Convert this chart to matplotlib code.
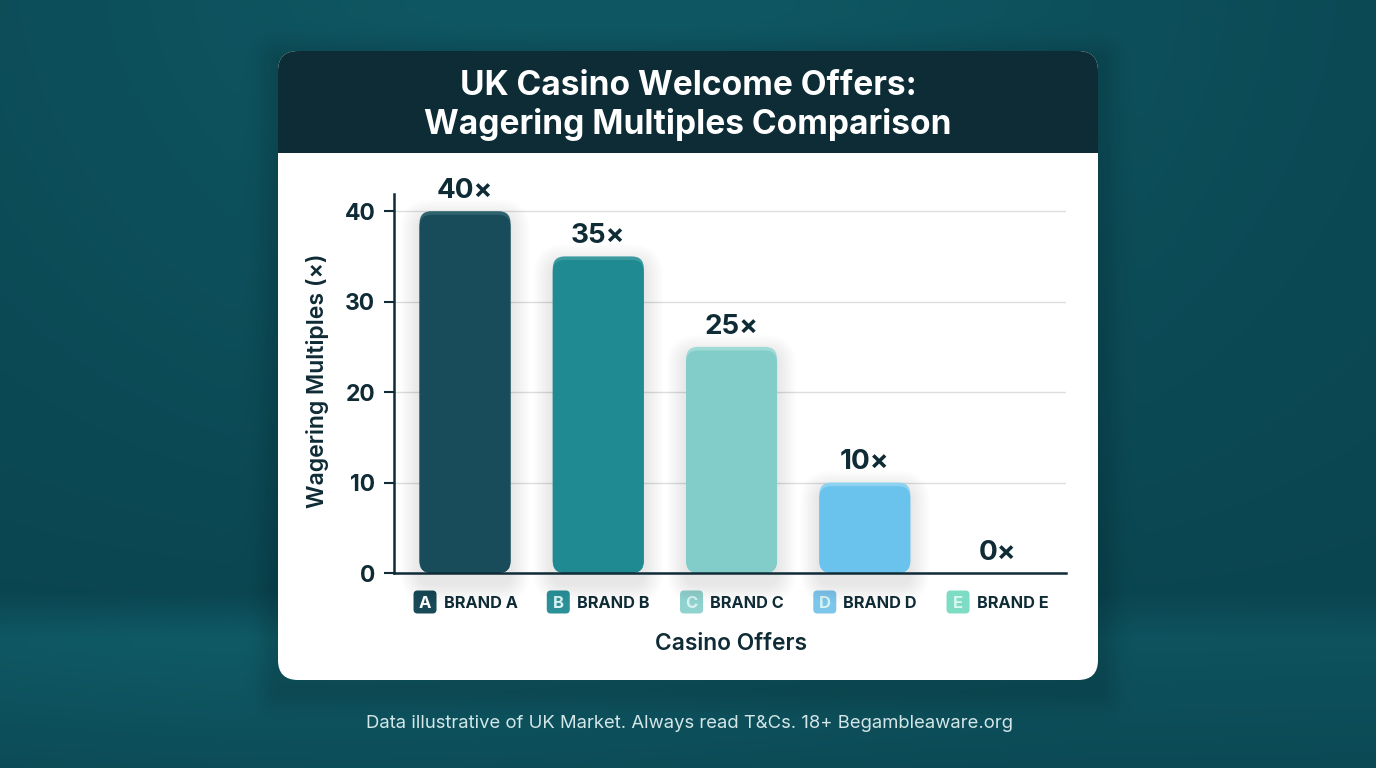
import matplotlib
matplotlib.use("Agg")
import matplotlib.pyplot as plt
import numpy as np
from matplotlib.patches import FancyBboxPatch, Rectangle

# Chart data
brands = ["BRAND A", "BRAND B", "BRAND C", "BRAND D", "BRAND E"]
letters = ["A", "B", "C", "D", "E"]
multiples = [40, 35, 25, 10, 0]
y_ticks = [0, 10, 20, 30, 40]
bar_colors = ["#184c5a", "#1f8a91", "#82cdca", "#6ac3ec", "#7fdcc4"]
rim_colors = ["#2f6370", "#3a9aa0", "#a0dad6", "#8ed2f2", "#a0e6d4"]
badge_colors = ["#1a4a58", "#2b9098", "#8fd2ce", "#7cc6ec", "#7fdcc4"]
badge_text = ["#ffffff", "#d8f3f3", "#d8f3f3", "#d8f3f3", "#d8f8ee"]

title = "UK Casino Welcome Offers:\nWagering Multiples Comparison"
footer = "Data illustrative of UK Market. Always read T&Cs. 18+ Begambleaware.org"

INK = "#0f2b35"
W, H = 1376, 768

plt.rcParams["font.family"] = ["Inter", "DejaVu Sans"]

fig = plt.figure(figsize=(W / 100, H / 100), dpi=100)

# backdrop axes works in pixel coordinates, y going down
bg = fig.add_axes([0, 0, 1, 1], zorder=0)
bg.set_xlim(0, W)
bg.set_ylim(H, 0)
bg.axis("off")

yy, xx = np.mgrid[0:H, 0:W].astype(float)
# wall: vignette that darkens towards the floor line
wall = 0.45 * np.exp(-((xx - 600) / 700.0) ** 2) * np.clip(1 - (yy / 640.0) ** 1.5, 0, 1) + 0.06
# floor: sharp-ish start at y=600, brightest near y=640, fading down
rise = np.clip((yy - 592) / 45.0, 0, 1)
fade = np.clip(1 - (yy - 645) / 200.0, 0, 1)
floor = rise * fade * (0.32 + 0.2 * np.exp(-((xx - 350) / 500.0) ** 2))
dark = np.array([9, 66, 77.0])
light = np.array([20, 108, 120.0])
mix = np.clip(wall + floor, 0, 1)[..., None]
img = dark + (light - dark) * mix

# soft card shadow
cx, cy, hw, hh = 688, 374, 410, 315
d = np.hypot(np.maximum(np.abs(xx - cx) - hw, 0), np.maximum(np.abs(yy - cy) - hh, 0))
shadow = 0.14 * np.exp(-(d / 20.0) ** 2)[..., None]
img = img * (1 - shadow)
bg.imshow(img.astype(np.uint8), extent=(0, W, H, 0), aspect="auto", zorder=0)

card = FancyBboxPatch((278, 51), 820, 629, boxstyle="round,pad=0,rounding_size=20",
                      fc="white", ec="none", zorder=1)
bg.add_patch(card)
header = Rectangle((278, 51), 820, 102, fc="#0d2c36", ec="none", zorder=2)
bg.add_patch(header)
header.set_clip_path(card)

bg.text(688, 105.5, title, color="white", fontsize=24.1, fontweight="bold",
        ha="center", va="center", linespacing=1.23, zorder=3)
bg.text(689, 723, footer, color="#d3e6e8", fontsize=13.3, ha="center", va="center", zorder=3)

# main axes: spine at x=394..1066, y=0 at 573, y=40 at 211
ax = fig.add_axes([394 / W, 1 - 573 / H, (1066 - 394) / W, (573 - 194) / H], zorder=1)
ax.patch.set_alpha(0)
ax.set_xlim(-0.533, 4.51)
ax.set_ylim(0, 41.9)

x = np.arange(len(brands))
bar_w = 0.683
ax.set_yticks(y_ticks)
ax.set_xticks(x)
ax.set_xticklabels([])
ax.grid(axis="y", color="#dcdfe0", lw=1)
ax.set_axisbelow(True)
ax.tick_params(axis="x", length=0)
ax.tick_params(axis="y", length=7.5, width=1.5, color=INK, labelcolor=INK, pad=6)
for lab in ax.get_yticklabels():
    lab.set_fontsize(16.5)
    lab.set_fontweight("bold")
for side in ["top", "right"]:
    ax.spines[side].set_visible(False)
for side in ["left", "bottom"]:
    ax.spines[side].set_color(INK)
    ax.spines[side].set_linewidth(1.8)
    ax.spines[side].set_zorder(6)

# rounded bars, aspect keeps the corners circular in pixels
aspect = (ax.get_ylim()[1] / 379) / ((ax.get_xlim()[1] - ax.get_xlim()[0]) / 672)
corner = "round,pad=0,rounding_size=0.09"
for i, val in enumerate(multiples):
    if val > 0:
        for k in range(12, 0, -1):
            # stacked translucent boxes for the bar's soft shadow
            grow = k * 0.012
            ax.add_patch(FancyBboxPatch((i - bar_w / 2, -1.2), bar_w, val + 0.4,
                                        boxstyle=f"round,pad={grow},rounding_size={0.09 + grow}",
                                        mutation_aspect=aspect, fc="#0f2e39", ec="none",
                                        alpha=0.006, zorder=3, clip_on=False))
        # lighter top rim first, then the body over it
        ax.add_patch(FancyBboxPatch((i - bar_w / 2, 0), bar_w, val, boxstyle=corner,
                                    mutation_aspect=aspect, fc=rim_colors[i], ec="none",
                                    zorder=4, clip_on=False))
        ax.add_patch(FancyBboxPatch((i - bar_w / 2, 0), bar_w, val - 0.4, boxstyle=corner,
                                    mutation_aspect=aspect, fc=bar_colors[i], ec="none",
                                    zorder=5, clip_on=False))
    ax.annotate(f"{val}×", (i, val), xytext=(0, 14.5), textcoords="offset points",
                ha="center", va="center", fontsize=20, fontweight="bold", color=INK,
                annotation_clip=False, zorder=7)

ax.set_ylabel("Wagering Multiples (×)", fontsize=16.6, fontweight="semibold", color=INK)
ax.yaxis.set_label_coords((329 - 394) / 672, (573 - 381) / 379)
ax.set_xlabel("Casino Offers", fontsize=16.4, fontweight="semibold", color=INK)
ax.xaxis.set_label_coords((731 - 394) / 672, (573 - 633) / 379)

# badges and brand names under the axis, placed from the bar centres
for i, name in enumerate(brands):
    px = ax.transData.transform((i, 0))[0]
    bx = px - 51.5
    bg.add_patch(FancyBboxPatch((bx, 590.5), 23, 23, boxstyle="round,pad=0,rounding_size=4",
                                fc=badge_colors[i], ec="none", zorder=3))
    bg.text(bx + 11.5, 603, letters[i], color=badge_text[i], fontsize=12, fontweight="bold",
            ha="center", va="center", zorder=4)
    bg.text(bx + 30, 603.5, name, color=INK, fontsize=11.7, fontweight="bold",
            ha="left", va="center", zorder=4)

fig.savefig("out.png", dpi=100)
